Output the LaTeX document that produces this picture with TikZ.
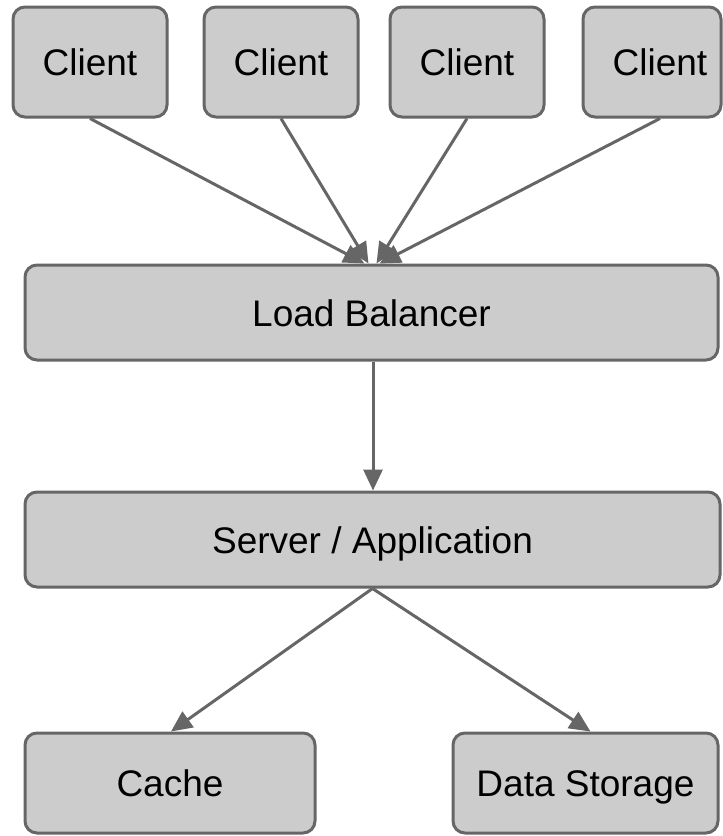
\documentclass[tikz,border=0pt]{standalone}
\usepackage{fontspec}
\setmainfont{Liberation Sans}
\usetikzlibrary{arrows.meta}
\definecolor{boxfill}{HTML}{CCCCCC}
\definecolor{edge}{HTML}{666666}
\begin{document}
\begin{tikzpicture}[x=1pt,y=-1pt,
  box/.style={draw=edge, fill=boxfill, line width=3pt, rounded corners=12pt,
    inner sep=0pt, text height=27pt, text depth=0pt,
    font=\fontsize{37}{44}\selectfont, text=black},
  conn/.style={draw=edge, line width=3pt, -{Triangle[length=21pt,width=19pt]}}]
\useasboundingbox (0,0) rectangle (723,836);
\node[box, minimum width=154pt, minimum height=110pt] (c1) at (90,62) {Client};
\node[box, minimum width=154pt, minimum height=110pt] (c2) at (281,62) {Client};
\node[box, minimum width=154pt, minimum height=110pt] (c3) at (467,62) {Client};
\node[box, minimum width=138pt, minimum height=110pt] (c4) at (652,62) {\hspace*{16pt}Client};
\node[box, minimum width=693pt, minimum height=95pt] (lb) at (371.5,312.5) {Load Balancer};
\node[box, minimum width=695pt, minimum height=95pt] (srv) at (372.5,539.5) {Server / Application};
\node[box, minimum width=290pt, minimum height=100pt] (cache) at (170,783) {Cache};
\node[box, minimum width=265pt, minimum height=100pt] (ds) at (585.5,783) {Data Storage};
\draw[conn] (c1.south) -- ([xshift=-7pt]lb.north);
\draw[conn] (c2.south) -- ([xshift=-3pt]lb.north);
\draw[conn] (c3.south) -- ([xshift=5pt]lb.north);
\draw[conn] ([xshift=8pt]c4.south) -- ([xshift=8pt]lb.north);
\draw[conn] ([xshift=1.5pt]lb.south) -- ([xshift=0.5pt]srv.north);
\draw[conn] (srv.south) -- ([xshift=1pt]cache.north);
\draw[conn] (srv.south) -- ([xshift=5pt]ds.north);
\end{tikzpicture}
\end{document}
